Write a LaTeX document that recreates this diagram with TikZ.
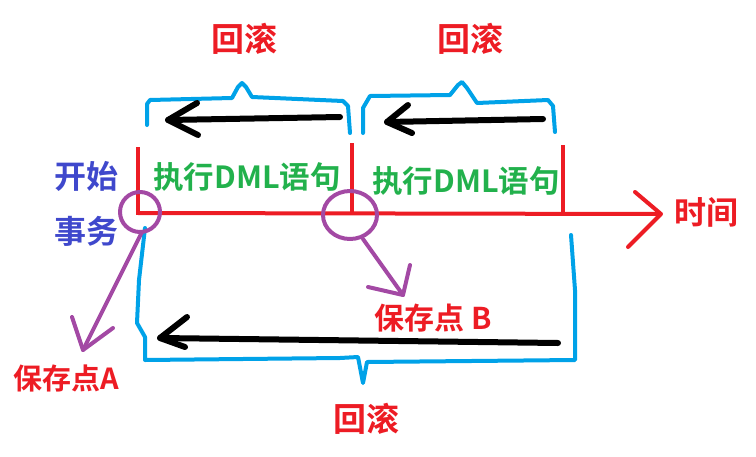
\documentclass[tikz,border=0pt]{standalone}
\usepackage{fontspec}
\newfontfamily\cjk{Noto Sans CJK SC}[BoldFont={Noto Sans CJK SC Bold}]

\definecolor{pred}{HTML}{ED1C24}
\definecolor{pgreen}{HTML}{22B14C}
\definecolor{pindigo}{HTML}{3F48CC}
\definecolor{pblue}{HTML}{00A2E8}
\definecolor{ppurple}{HTML}{A349A4}

\tikzset{
	txt/.style={inner sep=0pt, font=\cjk\bfseries\fontsize{#1}{#1}\selectfont},
	brace/.style={pblue, line width=4pt, line join=round, line cap=round},
	timeline/.style={pred, line width=4pt, line join=round},
	back/.style={black, line width=6pt, line join=round, line cap=round},
	savemark/.style={ppurple, line width=4pt, line join=round, line cap=round}
}

\begin{document}
\begin{tikzpicture}[x=1pt, y=-1pt]
	\useasboundingbox (0,0) rectangle (756,456);
	
	% labels
	\node[txt=33, pred] (rollA) at (244,39) {回滚};
	\node[txt=33, pred] (rollB) at (470,39) {回滚};
	\node[txt=33, pred] (rollC) at (366,419) {回滚};
	\node[txt=32, pindigo] (begin) at (86,176) {开始};
	\node[txt=32, pindigo] (txn) at (86,231) {事务};
	\node[txt=30.5, pgreen] (dmlA) at (247,177) {执行DML语句};
	\node[txt=30.5, pgreen] (dmlB) at (466,181) {执行DML语句};
	\node[txt=32, pred] (time) at (706,212) {时间};
	\node[txt=29, pred] (saveA) at (66,378) {保存点A};
	\node[txt=30, pred] (saveB) at (433,318) {保存点 B};
	
	% time axis
	\draw[timeline] (138,213) -- (658,214);
	\draw[timeline, line cap=round] (635,192) -- (661,214) -- (628,247);
	\draw[timeline] (138,147) -- (138,215);
	\draw[timeline] (352,143) -- (352,215);
	\draw[timeline] (563,145) -- (563,215);
	
	% braces
	\draw[brace] (147,125) -- (147,104) -- (150,100) -- (232,98) -- (238,87) -- (242,83) -- (246,87) -- (252,97) -- (343,101) -- (348,106) -- (350,133);
	\draw[brace] (363,133) -- (363,108) -- (370,96) -- (450,95) -- (458,85) -- (462,82) -- (467,88) -- (477,103) -- (548,100) -- (553,106) -- (555,132);
	\draw[brace] (145,228) -- (139,280) -- (137,323) -- (145,337) -- (145,360) -- (340,358) -- (358,357) -- (363,383) -- (367,362) -- (575,360) -- (575,290) -- (571,235);
	
	% rollback arrows
	\draw[back] (340,117) -- (168,120);
	\draw[back] (197,103) -- (168,120) -- (198,135);
	\draw[back] (543,119) -- (387,122);
	\draw[back] (408,105) -- (387,122) -- (412,133);
	\draw[back] (558,343) -- (160,338);
	\draw[back] (187,317) -- (160,338) -- (185,347);
	
	% save points
	\coordinate (ptA) at (140,212);
	\coordinate (ptB) at (350,215);
	\coordinate (tipA) at (83,350);
	\coordinate (tipB) at (403,295);
	\draw[savemark] (ptA) ellipse [x radius=20, y radius=20];
	\draw[savemark] (ptB) ellipse [x radius=27, y radius=24];
	\draw[savemark] (142,232) -- (tipA);
	\draw[savemark] (72,317) -- (tipA) -- (113,328);
	\draw[savemark] (363,239) -- (tipB);
	\draw[savemark] (410,265) -- (tipB) -- (368,287);
	
\end{tikzpicture}
\end{document}
